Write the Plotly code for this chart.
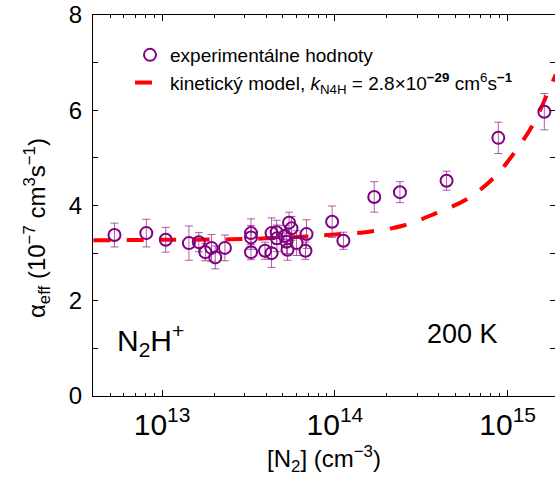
import plotly.graph_objects as go

# Experimental effective recombination rate coefficients of N2H+ at 200 K
n2_exp = [5.3e12, 8.1e12, 1.05e13, 1.43e13, 1.63e13, 1.78e13, 1.93e13, 2.03e13,
          2.31e13, 3.27e13, 3.27e13, 3.27e13, 3.94e13, 4.3e13, 4.3e13, 4.6e13,
          4.62e13, 5.13e13, 5.43e13, 5.61e13, 5.25e13, 5.32e13, 6.0e13, 6.85e13,
          6.76e13, 9.64e13, 1.12e14, 1.69e14, 2.38e14, 4.43e14, 8.83e14, 1.63e15]
alpha_exp = [3.38, 3.42, 3.28, 3.21, 3.23, 3.02, 3.11, 2.91,
             3.11, 3.42, 3.33, 3.02, 3.05, 3.00, 3.42, 3.44,
             3.31, 3.36, 3.64, 3.52, 3.24, 3.07, 3.21, 3.40,
             3.05, 3.66, 3.26, 4.18, 4.28, 4.52, 5.42, 5.97]
alpha_err = [0.25, 0.29, 0.26, 0.36, 0.20, 0.18, 0.28, 0.24,
             0.27, 0.30, 0.25, 0.16, 0.18, 0.30, 0.32, 0.25,
             0.28, 0.22, 0.22, 0.25, 0.25, 0.22, 0.26, 0.30,
             0.18, 0.33, 0.18, 0.32, 0.22, 0.20, 0.33, 0.38]

# Kinetic model curve
n2_model = [4.0e12, 1.0e13, 2.5e13, 4.0e13, 6.9e13, 1.0e14, 1.58e14, 2.5e14,
            3.8e14, 5.9e14, 8.3e14, 1.1e15, 1.41e15, 1.7e15, 1.9e15]
alpha_model = [3.27, 3.28, 3.29, 3.31, 3.35, 3.39, 3.45, 3.58,
               3.83, 4.15, 4.58, 5.12, 5.72, 6.35, 6.75]

y_ticks = [0, 1, 2, 3, 4, 5, 6, 7, 8]
y_ticktext = ["0", "", "2", "", "4", "", "6", "", "8"]

FONT = "Arial, Liberation Sans, sans-serif"
PURPLE = "#800080"

fig = go.Figure()

fig.add_trace(go.Scatter(
    x=n2_model, y=alpha_model, mode="lines", line_shape="spline",
    line=dict(color="#ff0000", width=4, dash="17px,16px"),
    name="kinetický model, <i>k</i><sub>N4H</sub> = 2.8×10<sup><b>−29</b></sup> cm<sup>6</sup>s<sup><b>−1</b></sup>",
    legendrank=2,
))

fig.add_trace(go.Scatter(
    x=n2_exp, y=alpha_exp, mode="markers",
    marker=dict(symbol="circle-open", size=12, color=PURPLE, line=dict(width=2, color=PURPLE)),
    error_y=dict(type="data", array=alpha_err, color="rgba(140,40,140,0.75)", thickness=1, width=4),
    name="experimentálne hodnoty",
    legendrank=1,
))

fig.add_trace(go.Scatter(x=[], y=[], yaxis="y2", showlegend=False))

fig.add_annotation(
    text="N<sub>2</sub>H<sup>+</sup>", xref="paper", yref="paper",
    x=(115 - 93) / 462, y=(396 - 340) / 381, xanchor="left", yanchor="middle",
    showarrow=False, font=dict(family=FONT, size=30, color="black"),
)
fig.add_annotation(
    text="200 K", xref="paper", yref="paper",
    x=(462 - 93) / 462, y=(396 - 334) / 381, xanchor="center", yanchor="middle",
    showarrow=False, font=dict(family=FONT, size=27, color="black"),
)
fig.add_annotation(
    text="α<sub>eff</sub> (10<sup>−7</sup> cm<sup>3</sup>s<sup>−1</sup>)",
    xref="paper", yref="paper", x=(37 - 93) / 462, y=(396 - 228) / 381,
    xanchor="center", yanchor="middle", textangle=-90,
    showarrow=False, font=dict(family=FONT, size=24, color="black"),
)

fig.update_layout(
    width=555, height=482,
    margin=dict(l=93, r=0, t=15, b=86),
    paper_bgcolor="white", plot_bgcolor="white",
    font=dict(family=FONT, size=24, color="black"),
    legend=dict(x=(130 - 93) / 462, y=(396 - 36) / 381, xanchor="left", yanchor="top",
                bgcolor="rgba(0,0,0,0)", font=dict(family=FONT, size=19), tracegroupgap=0),
    xaxis=dict(
        type="log", range=[12.6, 15.274], dtick=1, exponentformat="power",
        showline=True, linecolor="black", linewidth=1, mirror="ticks",
        ticks="inside", ticklen=6, tickcolor="black", showgrid=False, zeroline=False,
        ticklabelstandoff=3,
        minor=dict(ticks="inside", ticklen=3, tickcolor="black", dtick="D1", showgrid=False),
        title=dict(text="[N<sub>2</sub>] (cm<sup>−3</sup>)", standoff=10, font=dict(size=24)),
        tickfont=dict(size=24),
    ),
    yaxis=dict(
        range=[0, 8], tickvals=y_ticks, ticktext=y_ticktext,
        showline=True, linecolor="black", linewidth=1, mirror=False,
        ticks="inside", ticklen=5, tickcolor="black", showgrid=False, zeroline=False,
        ticklabelstandoff=5, tickfont=dict(size=24),
    ),
    yaxis2=dict(
        range=[0, 8], tickvals=y_ticks, overlaying="y", side="right",
        showline=False, ticks="inside", ticklen=5, tickcolor="black",
        showticklabels=False, showgrid=False, zeroline=False,
    ),
)

fig.write_html("out.html")
